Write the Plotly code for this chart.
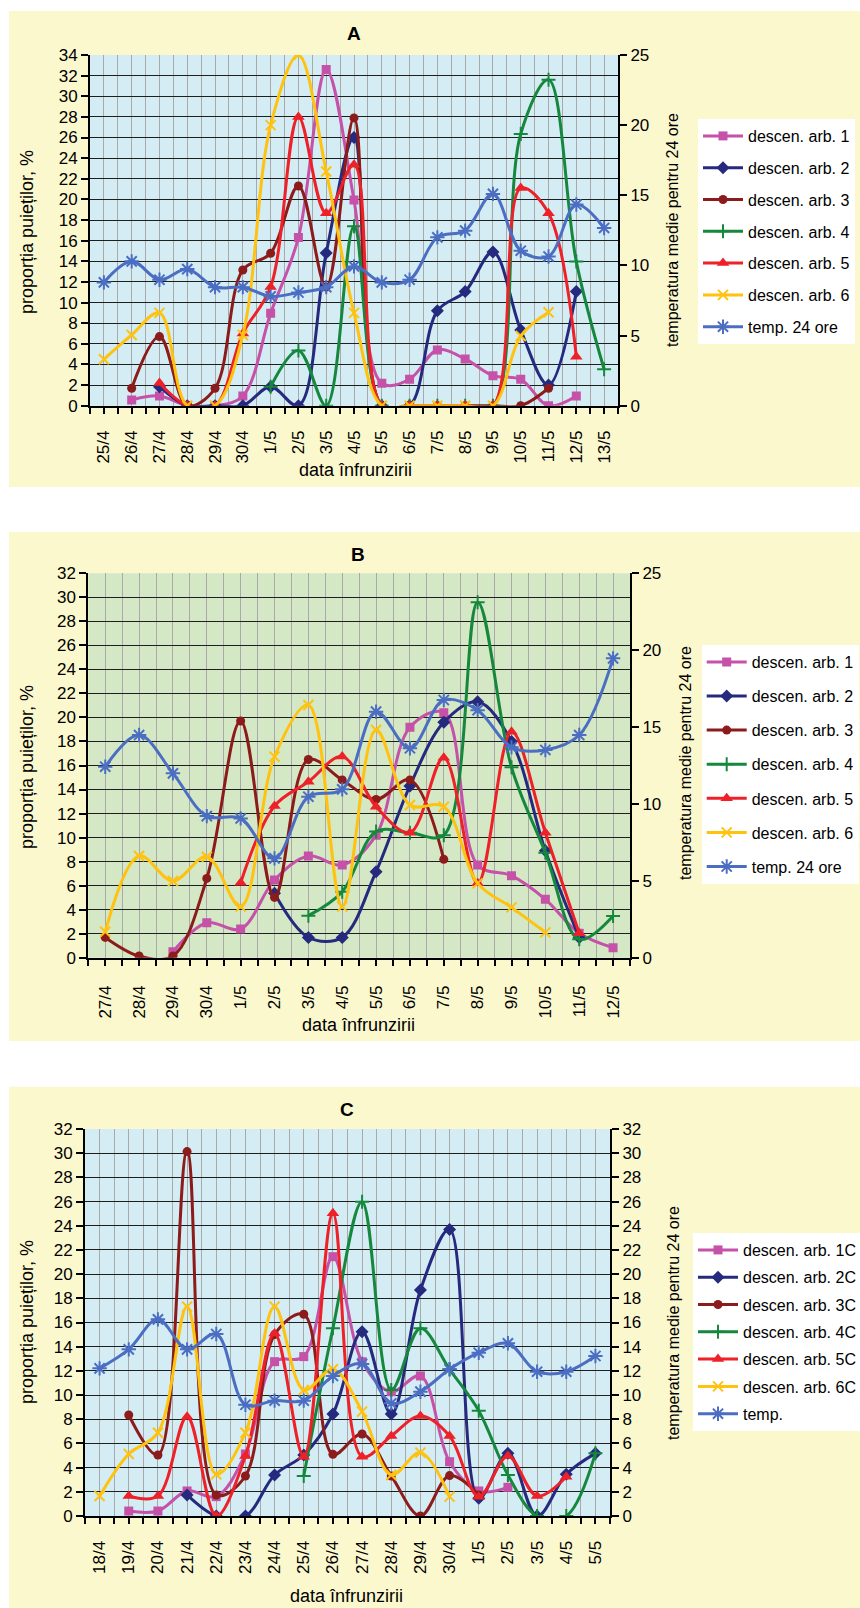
import plotly.graph_objects as go

W, H = 860, 1608

# ---------------- DATA ----------------
dates_A = ['25/4', '26/4', '27/4', '28/4', '29/4', '30/4', '1/5', '2/5', '3/5', '4/5',
           '5/5', '6/5', '7/5', '8/5', '9/5', '10/5', '11/5', '12/5', '13/5']
A1 = [None, 0.55, 0.94, 0, 0, 0.94, 8.96, 16.3, 32.6, 19.95, 2.17, 2.56, 5.4, 4.53, 2.91, 2.56, 0, 0.94, None]
A2 = [None, None, 1.84, 0, 0, 0, 1.84, 0, 14.8, 26.0, 0, 0, 9.2, 11.06, 14.9, 7.34, 2.0, 11.06, None]
A3 = [None, 1.69, 6.7, 0, 1.69, 13.16, 14.78, 21.3, 11.5, 27.9, 0, 0, 0, 0, 0, 0, 1.69, None, None]
A4 = [None, None, None, None, None, None, 1.84, 5.34, 0, 17.4, 0, 0, 0, 0, 0, 26.35, 31.6, 13.97, 3.53]
A5 = [None, None, 2.2, 0, 0, 7.0, 11.5, 28.0, 18.66, 23.35, 0, 0, 0, 0, 0, 21.1, 18.66, 4.75, None]
A6 = [4.5, 6.86, 9.0, 0, 0, 6.86, 27.2, 34.0, 22.7, 9.0, 0, 0, 0, 0, 0, 6.76, 9.06, None, None]
tempA = [8.79, 10.29, 8.98, 9.74, 8.45, 8.45, 7.79, 8.07, 8.45, 9.93, 8.79, 8.98, 12.0, 12.48,
         15.1, 11.05, 10.64, 14.34, 12.67]

dates_B = ['27/4', '28/4', '29/4', '30/4', '1/5', '2/5', '3/5', '4/5', '5/5', '6/5',
           '7/5', '8/5', '9/5', '10/5', '11/5', '12/5']
B1 = [None, None, 0.5, 2.91, 2.39, 6.47, 8.47, 7.72, 10.2, 19.18, 20.4, 7.72, 6.83, 4.86, 2.03, 0.83]
B2 = [None, None, None, None, None, 5.36, 1.69, 1.69, 7.16, 14.3, 19.6, 21.3, 18.0, 8.9, 1.69, None]
B3 = [1.69, 0.14, 0.14, 6.6, 19.7, 5.02, 16.5, 14.8, 13.18, 14.8, 8.19, None, None, None, None, None]
B4 = [None, None, None, None, None, None, 3.5, 5.5, 10.5, 10.4, 10.2, 29.6, 15.85, 8.74, 1.53, 3.47]
B5 = [None, None, None, None, 6.24, 12.63, 14.65, 16.74, 12.57, 10.41, 16.65, 6.19, 18.8, 10.41, 2.03, None]
B6 = [2.16, 8.47, 6.38, 8.41, 4.25, 16.74, 21.04, 4.25, 18.96, 12.71, 12.57, 6.19, 4.19, 2.11, None, None]
tempB = [12.42, 14.48, 11.99, 9.21, 9.06, 6.46, 10.47, 10.95, 16.0, 13.62, 16.76, 16.1, 13.68,
         13.51, 14.48, 19.47]

dates_C = ['18/4', '19/4', '20/4', '21/4', '22/4', '23/4', '24/4', '25/4', '26/4', '27/4',
           '28/4', '29/4', '30/4', '1/5', '2/5', '3/5', '4/5', '5/5']
C1 = [None, 0.41, 0.41, 2.07, 1.6, 5.13, 12.76, 13.18, 21.44, 12.76, 10.28, 11.58, 4.49, 2.07, 2.37, None, None, None]
C2 = [None, None, None, 1.74, 0, 0, 3.39, 5.04, 8.43, 15.24, 8.43, 18.69, 23.7, 1.46, 5.18, 0, 3.45, 5.18]
C3 = [None, 8.35, 5.04, 30.13, 1.74, 3.31, 15.0, 16.68, 5.1, 6.78, 3.31, 0, 3.34, 1.74, None, None, None, None]
C4 = [None, None, None, None, None, None, None, 3.31, 15.52, 25.99, 10.42, 15.52, 12.13, 8.71, 3.39, 0, 0, 5.18]
C5 = [None, 1.65, 1.65, 8.21, 0, 4.96, 15.1, 4.9, 25.03, 4.9, 6.62, 8.27, 6.62, 1.6, 4.96, 1.65, 3.25, None]
C6 = [1.65, 5.13, 6.89, 17.31, 3.45, 6.89, 17.31, 10.42, 12.13, 8.63, 3.39, 5.24, 1.6, None, None, None, None, None]
tempC = [12.21, 13.78, 16.26, 13.78, 15.05, 9.2, 9.54, 9.54, 11.58, 12.57, 9.32, 10.28, 12.13,
         13.5, 14.28, 11.93, 11.93, 13.23]

names_AB = ['descen. arb. 1', 'descen. arb. 2', 'descen. arb. 3', 'descen. arb. 4',
            'descen. arb. 5', 'descen. arb. 6', 'temp. 24 ore']
names_C = ['descen. arb. 1C', 'descen. arb. 2C', 'descen. arb. 3C', 'descen. arb. 4C',
           'descen. arb. 5C', 'descen. arb. 6C', 'temp.']

# ---------------- STYLE ----------------
FONT = 'Liberation Sans, Arial, sans-serif'
COLORS = ['#C552A8', '#262A7E', '#8C1B1B', '#16883E', '#EE2028', '#FFC20E', '#4C6EC2']
SYMBOLS = ['square', 'diamond', 'circle', 'cross-thin', 'triangle-up', 'x-thin', 'asterisk']
SIZES = [9, 10, 9, 10, 11, 10, 12]
THIN = {'cross-thin', 'x-thin', 'asterisk'}
YELLOW = '#FCF8CE'
BLUE_BG = '#D4ECF3'
GREEN_BG = '#D4E8C5'


def fx(px):
    return px / W


def fy(py):
    return 1 - py / H


fig = go.Figure()

panels = [
    dict(dates=dates_A, series=[A1, A2, A3, A4, A5, A6], temp=tempA, names=names_AB,
         legend='legend', x='x', y='y', y2='y2', standoff=10),
    dict(dates=dates_B, series=[B1, B2, B3, B4, B5, B6], temp=tempB, names=names_AB,
         legend='legend2', x='x2', y='y3', y2='y4', standoff=13),
    dict(dates=dates_C, series=[C1, C2, C3, C4, C5, C6], temp=tempC, names=names_C,
         legend='legend3', x='x3', y='y5', y2='y6', standoff=10),
]

for p in panels:
    xs = list(range(len(p['dates'])))
    allseries = p['series'] + [p['temp']]
    for i, vals in enumerate(allseries):
        sym = SYMBOLS[i]
        col = COLORS[i]
        marker = dict(symbol=sym, size=SIZES[i], color=col,
                      line=dict(color=col, width=2 if sym in THIN else 0))
        fig.add_trace(go.Scatter(
            x=xs, y=vals, mode='lines+markers', name=p['names'][i],
            line=dict(color=col, width=3, shape='spline', smoothing=1),
            marker=marker, legend=p['legend'], legendgroup=p['legend'] + str(i),
            xaxis=p['x'], yaxis=p['y2'] if i == 6 else p['y'],
            hoverinfo='skip'))

# plot area pixel boxes (left, right, top, bottom)
boxes = [(90, 618, 55, 405.7), (88.3, 630, 573.3, 957.7), (85, 610, 1129, 1516)]
yranges = [((0, 34), 2, (0, 25), 5), ((0, 32), 2, (0, 25), 5), ((0, 32), 2, (0, 32), 2)]

layout = dict(
    width=W, height=H, margin=dict(l=0, r=0, t=0, b=0, autoexpand=False),
    paper_bgcolor='white', plot_bgcolor='rgba(0,0,0,0)',
    font=dict(family=FONT, color='black'),
    showlegend=True,
)

axis_common = dict(showline=True, linecolor='black', linewidth=2, ticks='outside',
                   tickwidth=2, tickcolor='black', zeroline=False, fixedrange=True,
                   automargin=False)

for k, (p, b, yr) in enumerate(zip(panels, boxes, yranges)):
    n = len(p['dates'])
    xs = list(range(n))
    xname = 'xaxis' if k == 0 else f'xaxis{k + 1}'
    yid = p['y']
    y2id = p['y2']
    yname = 'yaxis' if yid == 'y' else 'yaxis' + yid[1:]
    y2name = 'yaxis' + y2id[1:]
    layout[xname] = dict(
        domain=[fx(b[0]), fx(b[1])], anchor=yid, range=[-0.5, n - 0.5],
        tickmode='array', tickvals=xs, ticktext=p['dates'], tickangle=-90,
        ticklen=6, tickfont=dict(size=17), showgrid=True, gridcolor='#A9A9A9', gridwidth=1,
        ticklabelstandoff=int(p['standoff']),
        minor=dict(tickmode='array', tickvals=[i - 0.5 for i in range(n + 1)], ticks='outside',
                   ticklen=6, tickwidth=2, tickcolor='black', showgrid=True,
                   gridcolor='#A9A9A9', gridwidth=1),
        **axis_common)
    layout[yname] = dict(
        domain=[fy(b[3]), fy(b[2])], anchor=p['x'], range=list(yr[0]), tick0=0, dtick=yr[1],
        ticklen=7, tickfont=dict(size=17), showgrid=True, gridcolor='#1E1E1E', gridwidth=1,
        **axis_common)
    layout[y2name] = dict(
        overlaying=yid, side='right', anchor=p['x'], range=list(yr[2]), tick0=0, dtick=yr[3],
        ticklen=7, tickfont=dict(size=17), showgrid=False, **axis_common)

# background shapes
shapes = []
for (y0, y1) in [(11, 487), (532, 1041), (1086.7, 1608)]:
    shapes.append(dict(type='rect', xref='paper', yref='paper', x0=fx(9), x1=1,
                       y0=fy(y1), y1=fy(y0), fillcolor=YELLOW, line=dict(width=0), layer='below'))
for p, colr in zip(panels, [BLUE_BG, GREEN_BG, BLUE_BG]):
    shapes.append(dict(type='rect', xref=p['x'] + ' domain', yref=p['y'] + ' domain',
                       x0=0, x1=1, y0=0, y1=1, fillcolor=colr, line=dict(width=0), layer='below'))
layout['shapes'] = shapes

# text annotations
ann = []
titles = [('A', 354, 33), ('B', 358, 554), ('C', 347, 1109)]
for t, x, y in titles:
    ann.append(dict(text='<b>%s</b>' % t, x=fx(x), y=fy(y), xref='paper', yref='paper',
                    showarrow=False, font=dict(size=19), xanchor='center', yanchor='middle'))
left_t = [(27, 232), (27, 767), (27, 1322)]
right_t = [(673, 230), (685, 763), (673, 1323)]
xt = [(355, 470), (358, 1025), (346, 1596)]
for (lx, ly), (rx, ry), (tx, ty) in zip(left_t, right_t, xt):
    ann.append(dict(text='proporția puieților, %', x=fx(lx), y=fy(ly), xref='paper', yref='paper',
                    showarrow=False, textangle=-90, font=dict(size=18),
                    xanchor='center', yanchor='middle'))
    ann.append(dict(text='temperatura medie pentru 24 ore', x=fx(rx), y=fy(ry), xref='paper',
                    yref='paper', showarrow=False, textangle=-90, font=dict(size=16),
                    xanchor='center', yanchor='middle'))
    ann.append(dict(text='data înfrunzirii', x=fx(tx), y=fy(ty), xref='paper', yref='paper',
                    showarrow=False, font=dict(size=18), xanchor='center', yanchor='middle'))
layout['annotations'] = ann

leg_common = dict(bgcolor='white', borderwidth=0, font=dict(size=16, family=FONT),
                  xanchor='left', yanchor='top', traceorder='grouped', itemwidth=40)
layout['legend'] = dict(x=fx(698), y=fy(119), tracegroupgap=8, **leg_common)
layout['legend2'] = dict(x=fx(701.7), y=fy(645), tracegroupgap=10.3, **leg_common)
layout['legend3'] = dict(x=fx(693), y=fy(1233), tracegroupgap=3.5, **leg_common)

fig.update_layout(**layout)
fig.write_html('out.html', config={'displayModeBar': False},
               post_script="document.body.style.margin='0';document.body.style.overflow='hidden';")
